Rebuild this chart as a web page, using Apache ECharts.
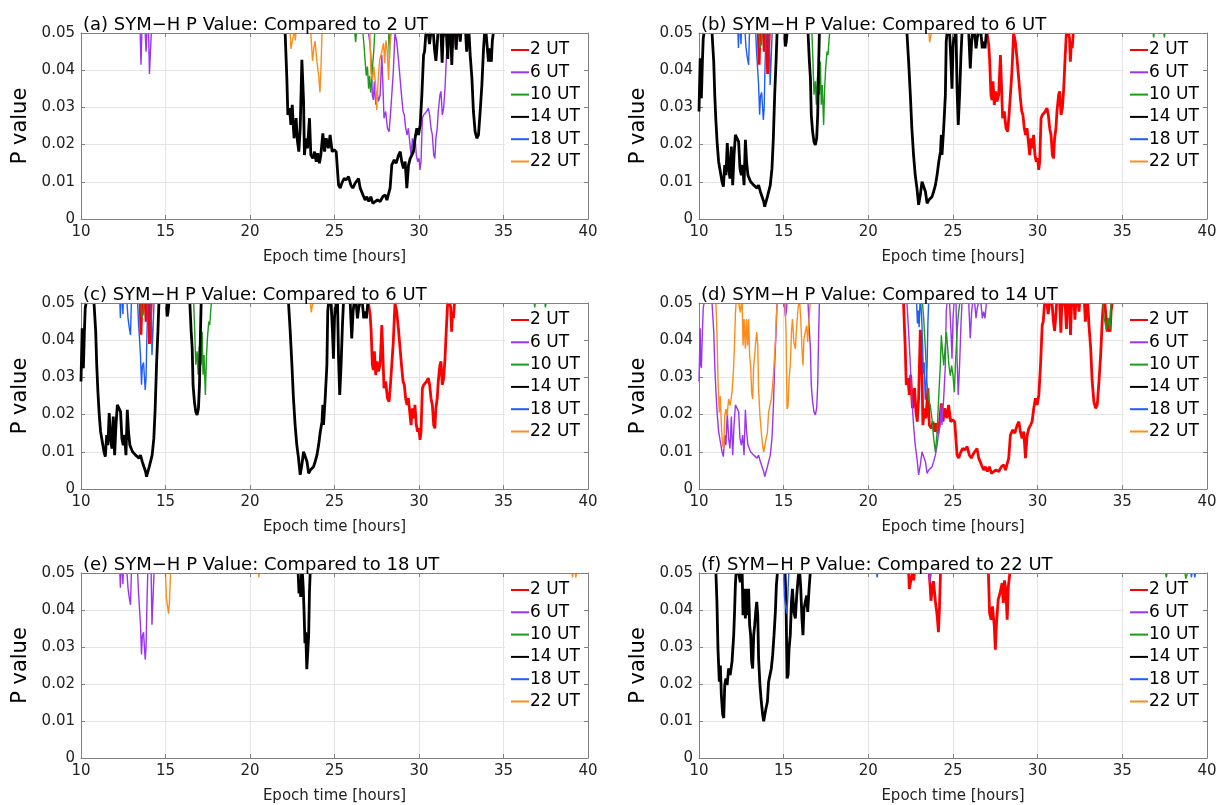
<!DOCTYPE html>
<html>
<head>
<meta charset="utf-8">
<script src="https://cdn.jsdelivr.net/npm/echarts@6/dist/echarts.min.js"></script>
<style>
  html, body { margin: 0; padding: 0; background: #fff; }
  #chart { width: 1225px; height: 805px; }
</style>
</head>
<body>
<div id="chart"></div>
<script>
// Legend entries (comparison hours) and panel titles
const utLabels = ['2 UT', '6 UT', '10 UT', '14 UT', '18 UT', '22 UT'];
const panelTitles = [
  '(a) SYM\u2212H P Value: Compared to 2 UT',
  '(b) SYM\u2212H P Value: Compared to 6 UT',
  '(c) SYM\u2212H P Value: Compared to 6 UT',
  '(d) SYM\u2212H P Value: Compared to 14 UT',
  '(e) SYM\u2212H P Value: Compared to 18 UT',
  '(f) SYM\u2212H P Value: Compared to 22 UT'
];
const xLabel = 'Epoch time [hours]';
const yLabel = 'P value';

// P-value traces for each pair of start hours: [epoch hour, p].
// null marks a break where p rises above 0.05.
const p2_6 = [
  [13.5,0.05],[13.55,0.0415],[13.6,0.05],null,
  [13.8,0.05],[13.85,0.045],[13.9,0.05],null,
  [14.0,0.05],[14.05,0.039],[14.12,0.039],[14.16,0.05],null,
  [27.01,0.05],[27.11,0.0468],[27.17,0.0423],[27.24,0.0334],[27.30,0.032],[27.36,0.037],[27.44,0.0307],
  [27.52,0.0343],[27.60,0.0316],[27.70,0.0334],[27.80,0.0441],[27.85,0.0378],[27.93,0.0271],[28.03,0.0289],
  [28.13,0.0244],[28.23,0.0235],[28.31,0.028],[28.39,0.0334],[28.48,0.0396],[28.58,0.05],[28.68,0.0477],
  [28.78,0.0432],[28.88,0.0378],[28.98,0.0325],[29.06,0.0289],[29.13,0.028],[29.21,0.0244],[29.29,0.0226],
  [29.37,0.0244],[29.45,0.0208],[29.53,0.0172],[29.61,0.0217],[29.69,0.019],[29.76,0.0226],[29.84,0.0172],
  [29.92,0.0154],[30.00,0.0163],[30.06,0.0132],[30.12,0.0154],[30.20,0.0271],[30.28,0.028],[30.35,0.0275],
  [30.45,0.0289],[30.55,0.0298],[30.63,0.028],[30.71,0.0244],[30.79,0.0226],[30.87,0.0172],[30.94,0.0163],
  [31.00,0.0217],[31.08,0.0244],[31.14,0.0289],[31.24,0.0334],[31.30,0.0343],[31.38,0.028],[31.46,0.0298],
  [31.54,0.0352],[31.61,0.0423],[31.69,0.0495],[31.73,0.05],null,
  [31.83,0.05],[31.88,0.0486],[31.93,0.0423],[31.99,0.0477],[32.04,0.0459],[32.1,0.05]
];

const p2_10 = [
  [26.2,0.05],[26.25,0.0475],[26.3,0.05],null,
  [26.68,0.05],[26.75,0.0465],[26.82,0.042],[26.88,0.0385],[26.95,0.041],[27.02,0.035],[27.08,0.0385],
  [27.14,0.034],[27.2,0.037],[27.26,0.0415],[27.32,0.045],[27.38,0.05],null,
  [28.2,0.05],[28.25,0.043],[28.3,0.05]
];

const p2_14 = [
  [22.08,0.05],[22.18,0.0378],[22.24,0.028],[22.34,0.0298],[22.42,0.0253],[22.50,0.0307],[22.57,0.0244],
  [22.61,0.0217],[22.73,0.0271],[22.81,0.0208],[22.89,0.0181],[22.97,0.0244],[23.07,0.0428],[23.17,0.0316],
  [23.22,0.0172],[23.32,0.0217],[23.40,0.019],[23.52,0.0271],[23.60,0.0172],[23.72,0.0163],[23.82,0.0181],
  [23.92,0.0154],[24.01,0.0177],[24.11,0.015],[24.19,0.0172],[24.31,0.023],[24.41,0.0181],[24.51,0.0217],
  [24.64,0.019],[24.74,0.0226],[24.86,0.0181],[24.98,0.0186],[25.10,0.0181],[25.24,0.0091],[25.34,0.0083],
  [25.43,0.0096],[25.57,0.0109],[25.69,0.0105],[25.83,0.0114],[25.97,0.0091],[26.08,0.0083],[26.22,0.0096],
  [26.42,0.0109],[26.52,0.0083],[26.68,0.0065],[26.81,0.0051],[26.91,0.006],[27.03,0.0047],[27.15,0.006],
  [27.27,0.0042],[27.41,0.0047],[27.54,0.0051],[27.70,0.0047],[27.86,0.006],[28.00,0.0065],[28.10,0.0051],
  [28.21,0.0047],[28.29,0.0083],[28.39,0.0145],[28.53,0.0159],[28.65,0.015],[28.79,0.0172],[28.89,0.0181],
  [28.98,0.0154],[29.08,0.0136],[29.18,0.0154],[29.28,0.0083],[29.38,0.0145],[29.48,0.0163],[29.58,0.0172],
  [29.67,0.0181],[29.77,0.0217],[29.87,0.0244],[29.97,0.0226],[30.07,0.0253],[30.17,0.0334],[30.27,0.0441],
  [30.33,0.045],[30.40,0.0495],[30.45,0.05],null,
  [30.55,0.05],[30.62,0.047],[30.7,0.05],null,
  [30.85,0.05],[30.92,0.0455],[31.0,0.0425],[31.06,0.0459],[31.12,0.05],null,
  [31.3,0.05],[31.37,0.042],[31.42,0.0486],[31.48,0.05],null,
  [31.62,0.05],[31.7,0.043],[31.76,0.05],null,
  [31.88,0.05],[31.94,0.0414],[32.0,0.05],null,
  [32.15,0.05],[32.2,0.0455],[32.25,0.05],null,
  [32.4,0.05],[32.44,0.0477],[32.48,0.05],null,
  [32.76,0.05],[32.82,0.045],[32.88,0.05],null,
  [32.96,0.05],[33.03,0.044],[33.13,0.0379],[33.22,0.0289],[33.32,0.0235],[33.42,0.0217],[33.52,0.0226],
  [33.62,0.0289],[33.72,0.036],[33.82,0.0459],[33.88,0.05],null,
  [33.97,0.05],[34.01,0.0477],[34.11,0.0423],[34.16,0.0459],[34.21,0.044],[34.28,0.0423],[34.34,0.048],[34.4,0.05]
];

const p2_22 = [
  [22.38,0.05],[22.42,0.0457],[22.5,0.0477],[22.6,0.05],null,
  [22.65,0.05],[22.68,0.048],[22.72,0.05],null,
  [23.6,0.05],[23.7,0.0425],[23.78,0.046],[23.85,0.0478],[23.96,0.0423],[24.07,0.0383],[24.14,0.034],
  [24.2,0.0405],[24.26,0.05],null,
  [27.09,0.05],[27.16,0.0392],[27.25,0.0374],[27.33,0.041],[27.44,0.0356],[27.5,0.0293],[27.57,0.0365],
  [27.67,0.0428],[27.78,0.0446],[27.9,0.0473],[27.97,0.0419],[28.04,0.048],[28.12,0.0455],[28.2,0.0374],
  [28.27,0.0464],[28.36,0.05]
];

const p6_10 = [
  [13.55,0.05],[13.6,0.046],[13.68,0.047],[13.72,0.05],null,
  [16.67,0.05],[16.73,0.0423],[16.79,0.0334],[16.87,0.037],[16.93,0.0307],[16.99,0.0378],[17.05,0.0396],
  [17.11,0.0334],[17.17,0.0423],[17.22,0.0307],[17.28,0.036],[17.36,0.0253],[17.42,0.0352],[17.48,0.0405],
  [17.56,0.045],[17.62,0.0441],[17.7,0.0495],[17.76,0.05],null,
  [36.82,0.05],[36.85,0.0488],[36.88,0.05],null,
  [37.45,0.05],[37.48,0.0488],[37.52,0.05]
];

const p6_14 = [
  [10.0,0.0289],[10.03,0.035],[10.07,0.0432],[10.1,0.0334],[10.14,0.0325],[10.2,0.0423],[10.25,0.0486],
  [10.3,0.05],null,
  [10.77,0.05],[10.87,0.0423],[10.93,0.0334],[11.0,0.0262],[11.08,0.0199],[11.16,0.0154],[11.26,0.0127],
  [11.36,0.01],[11.44,0.0087],[11.52,0.0145],[11.59,0.0118],[11.67,0.0204],[11.75,0.0136],[11.83,0.0109],
  [11.91,0.0195],[11.99,0.0091],[12.07,0.0172],[12.15,0.0226],[12.24,0.023],[12.34,0.0208],[12.42,0.0136],
  [12.5,0.0118],[12.58,0.0145],[12.66,0.0091],[12.74,0.0213],[12.81,0.0154],[12.89,0.0118],[12.97,0.0109],
  [13.05,0.01],[13.13,0.0105],[13.23,0.0091],[13.33,0.0096],[13.43,0.0083],[13.52,0.0091],[13.62,0.0074],
  [13.72,0.0069],[13.82,0.0047],[13.88,0.0033],[13.96,0.0047],[14.04,0.006],[14.11,0.0065],[14.21,0.0091],
  [14.31,0.0136],[14.39,0.0217],[14.47,0.0334],[14.55,0.0423],[14.61,0.05],null,
  [15.05,0.05],[15.1,0.0464],[15.15,0.0475],[15.2,0.05],null,
  [16.44,0.05],[16.52,0.0423],[16.58,0.0378],[16.63,0.028],[16.71,0.0235],[16.79,0.0208],[16.87,0.0199],
  [16.95,0.0217],[17.01,0.028],[17.07,0.0423],[17.11,0.05],null,
  [22.28,0.05],[22.38,0.0423],[22.48,0.0334],[22.57,0.0244],[22.67,0.0172],[22.77,0.0118],[22.87,0.0083],
  [22.97,0.0038],[23.07,0.0065],[23.17,0.01],[23.27,0.0105],[23.37,0.0074],[23.47,0.0042],[23.57,0.0051],
  [23.66,0.0047],[23.76,0.006],[23.86,0.0074],[23.96,0.0091],[24.06,0.0118],[24.16,0.0154],[24.26,0.0181],
  [24.31,0.0226],[24.35,0.0172],[24.45,0.0244],[24.55,0.0334],[24.6,0.0477],[24.65,0.05],null,
  [24.8,0.05],[24.88,0.0423],[24.94,0.035],[25.0,0.0459],[25.06,0.05],null,
  [25.18,0.05],[25.24,0.035],[25.31,0.0253],[25.39,0.0334],[25.47,0.0441],[25.53,0.05],null,
  [25.93,0.05],[26.02,0.0405],[26.1,0.0477],[26.16,0.05],null,
  [26.28,0.05],[26.36,0.0459],[26.43,0.0486],[26.5,0.05],null,
  [26.65,0.05],[26.73,0.0459],[26.81,0.0477],[26.89,0.0459],[26.97,0.05]
];

const p6_18 = [
  [12.3,0.05],[12.33,0.046],[12.36,0.05],null,
  [12.45,0.05],[12.48,0.047],[12.5,0.05],null,
  [12.72,0.05],[12.78,0.046],[12.85,0.0435],[12.93,0.0414],[12.98,0.05],null,
  [13.35,0.05],[13.4,0.045],[13.45,0.0445],[13.52,0.036],[13.58,0.028],[13.63,0.033],[13.7,0.034],
  [13.8,0.0266],[13.85,0.03],[13.9,0.041],[13.95,0.05],null,
  [14.15,0.05],[14.2,0.036],[14.27,0.0356],[14.32,0.05]
];

const p6_22 = [
  [23.58,0.05],[23.62,0.0475],[23.68,0.0477],[23.72,0.05]
];

const p10_14 = [
  [23.2,0.05],[23.27,0.0457],[23.37,0.0377],[23.46,0.0287],[23.56,0.0242],[23.66,0.0224],[23.76,0.0188],
  [23.86,0.0135],[23.96,0.0099],[24.06,0.0152],[24.15,0.0242],[24.25,0.0332],[24.31,0.0413],[24.37,0.0377],
  [24.45,0.0332],[24.53,0.0377],[24.61,0.0422],[24.69,0.0377],[24.76,0.0332],[24.84,0.0305],[24.92,0.0332],
  [25.0,0.0305],[25.08,0.026],[25.14,0.0332],[25.24,0.0422],[25.33,0.0475],[25.4,0.05],null,
  [33.85,0.05],[33.93,0.046],[34.05,0.0428],[34.15,0.046],[34.27,0.043],[34.33,0.05]
];

const p10_22 = [
  [37.55,0.05],[37.6,0.0488],[37.64,0.05],null,
  [38.7,0.05],[38.75,0.0485],[38.8,0.049],[38.85,0.05]
];

const p14_18 = [
  [22.85,0.05],[22.9,0.0445],[22.95,0.048],[23.0,0.0435],[23.05,0.05],null,
  [23.1,0.05],[23.15,0.046],[23.2,0.0395],[23.25,0.031],[23.3,0.034],[23.36,0.024],[23.42,0.0245],
  [23.47,0.033],[23.52,0.045],[23.56,0.05]
];

const p14_22 = [
  [11.0,0.05],[11.06,0.042],[11.12,0.0296],[11.2,0.0206],[11.26,0.025],[11.32,0.017],[11.4,0.0117],
  [11.46,0.0108],[11.52,0.0197],[11.59,0.0215],[11.66,0.0197],[11.75,0.0242],[11.84,0.0224],[11.95,0.026],
  [12.05,0.0332],[12.1,0.0395],[12.15,0.047],[12.19,0.05],null,
  [12.34,0.05],[12.44,0.0475],[12.5,0.05],null,
  [12.55,0.05],[12.6,0.0386],[12.66,0.0457],[12.74,0.0377],[12.8,0.0457],[12.87,0.0386],[12.93,0.0457],
  [12.99,0.0359],[13.05,0.0332],[13.11,0.026],[13.17,0.0242],[13.23,0.0332],[13.29,0.0359],[13.35,0.0395],
  [13.41,0.0422],[13.47,0.0386],[13.52,0.0269],[13.6,0.0197],[13.68,0.0152],[13.76,0.0117],[13.82,0.0099],
  [13.88,0.0103],[13.96,0.0135],[14.04,0.0152],[14.11,0.0206],[14.19,0.0224],[14.27,0.0242],[14.35,0.0278],
  [14.43,0.0332],[14.51,0.0395],[14.57,0.0468],[14.63,0.05],null,
  [15.08,0.05],[15.14,0.0422],[15.2,0.0215],[15.26,0.0224],[15.32,0.0296],[15.39,0.0332],[15.46,0.0422],
  [15.52,0.0457],[15.6,0.0395],[15.69,0.0377],[15.77,0.0439],[15.85,0.0484],[15.89,0.05],null,
  [15.95,0.05],[16.01,0.0457],[16.08,0.0377],[16.14,0.0332],[16.2,0.0404],[16.28,0.0422],[16.36,0.0439],
  [16.42,0.0395],[16.5,0.0457],[16.57,0.05]
];

const p18_22 = [
  [15.0,0.05],[15.05,0.0435],[15.12,0.041],[15.18,0.039],[15.23,0.042],[15.3,0.05],null,
  [20.5,0.05],[20.52,0.0488],[20.55,0.05],null,
  [39.05,0.05],[39.08,0.0488],[39.12,0.05],null,
  [39.25,0.05],[39.28,0.0488],[39.32,0.05]
];

// Which trace each legend entry shows in each panel (order follows utLabels)
const panelTraces = [
  [null,  p2_6,  p2_10,  p2_14,  null,   p2_22],
  [p2_6,  null,  p6_10,  p6_14,  p6_18,  p6_22],
  [p2_6,  null,  p6_10,  p6_14,  p6_18,  p6_22],
  [p2_14, p6_14, p10_14, null,   p14_18, p14_22],
  [null,  p6_18, null,   p14_18, null,   p18_22],
  [p2_22, p6_22, p10_22, p14_22, p18_22, null]
];

// ---- styling ----
const FONT = 'DejaVu Sans';
const lineColors = ['#ff0000', '#9a33f5', '#1b9a1b', '#000000', '#1f5cff', '#ff8c1a'];
const lineWidths = [2.8, 1.4, 1.4, 2.8, 1.4, 1.4];
const frameColor = '#808080';
const gridColor = '#e4e4e4';

const colLeft = [81, 699];
const colWidth = [507, 508];
const rowTop = [33, 303, 573];
const plotH = 186;

const grids = [], xAxes = [], yAxes = [], titles = [], legends = [], series = [];

function toData(arr) {
  if (!arr) return [];
  return arr.map(p => (p ? p : ['-', '-']));
}

for (let i = 0; i < 6; i++) {
  const col = i % 2, row = Math.floor(i / 2);
  const left = colLeft[col], top = rowTop[row], width = colWidth[col];
  grids.push({ left: left, top: top, width: width, height: plotH, containLabel: false });

  const tickStyle = { show: true, inside: true, length: 4, lineStyle: { color: frameColor } };
  xAxes.push({
    gridIndex: i, type: 'value', position: 'bottom', min: 10, max: 40, interval: 5,
    name: xLabel, nameLocation: 'middle', nameGap: 31,
    nameTextStyle: { fontFamily: FONT, fontSize: 15, color: '#222' },
    axisLine: { show: true, onZero: false, lineStyle: { color: frameColor, width: 1 } },
    axisTick: tickStyle,
    axisLabel: { fontFamily: FONT, fontSize: 15, color: '#222', margin: 6 },
    splitLine: { show: true, lineStyle: { color: gridColor, width: 1 } }
  });
  xAxes.push({
    gridIndex: i, type: 'value', position: 'top', min: 10, max: 40, interval: 5, z: 5,
    axisLine: { show: true, onZero: false, lineStyle: { color: frameColor, width: 1 } },
    axisTick: tickStyle, axisLabel: { show: false }, splitLine: { show: false }
  });
  yAxes.push({
    gridIndex: i, type: 'value', position: 'left', min: 0, max: 0.05, interval: 0.01,
    name: yLabel, nameLocation: 'middle', nameGap: 50,
    nameTextStyle: { fontFamily: FONT, fontSize: 21, color: '#000' },
    axisLine: { show: true, onZero: false, lineStyle: { color: frameColor, width: 1 } },
    axisTick: tickStyle,
    axisLabel: {
      fontFamily: FONT, fontSize: 15, color: '#222', margin: 6,
      formatter: v => (v === 0 ? '0' : v.toFixed(2))
    },
    splitLine: { show: true, lineStyle: { color: gridColor, width: 1 } }
  });
  yAxes.push({
    gridIndex: i, type: 'value', position: 'right', min: 0, max: 0.05, interval: 0.01, z: 5,
    axisLine: { show: true, onZero: false, lineStyle: { color: frameColor, width: 1 } },
    axisTick: tickStyle, axisLabel: { show: false }, splitLine: { show: false }
  });

  titles.push({
    text: panelTitles[i], left: left - 3, top: top - 24,
    textStyle: { fontFamily: FONT, fontSize: 18, fontWeight: 'normal', color: '#000', lineHeight: 22 }
  });

  legends.push({
    data: utLabels, orient: 'vertical', left: left + width - 83, top: top + 6,
    itemWidth: 18, itemHeight: 14, itemGap: 4.3, padding: [2, 4, 2, 5],
    backgroundColor: '#ffffff', selectedMode: false,
    itemStyle: { opacity: 0 },
    textStyle: { fontFamily: FONT, fontSize: 17, color: '#000', lineHeight: 18, padding: [0, 0, 0, -4] }
  });

  for (let j = 0; j < 6; j++) {
    series.push({
      type: 'line', name: utLabels[j], xAxisIndex: 2 * i, yAxisIndex: 2 * i,
      data: toData(panelTraces[i][j]),
      symbol: 'none', showSymbol: false, connectNulls: false, clip: true,
      color: lineColors[j], itemStyle: { color: lineColors[j] },
      lineStyle: { color: lineColors[j], width: lineWidths[j] },
      emphasis: { disabled: true }, animation: false
    });
  }
}

const chart = echarts.init(document.getElementById('chart'), null, { renderer: 'canvas' });
chart.setOption({
  backgroundColor: '#ffffff',
  animation: false,
  title: titles,
  legend: legends,
  grid: grids,
  xAxis: xAxes,
  yAxis: yAxes,
  series: series
});
</script>
</body>
</html>
